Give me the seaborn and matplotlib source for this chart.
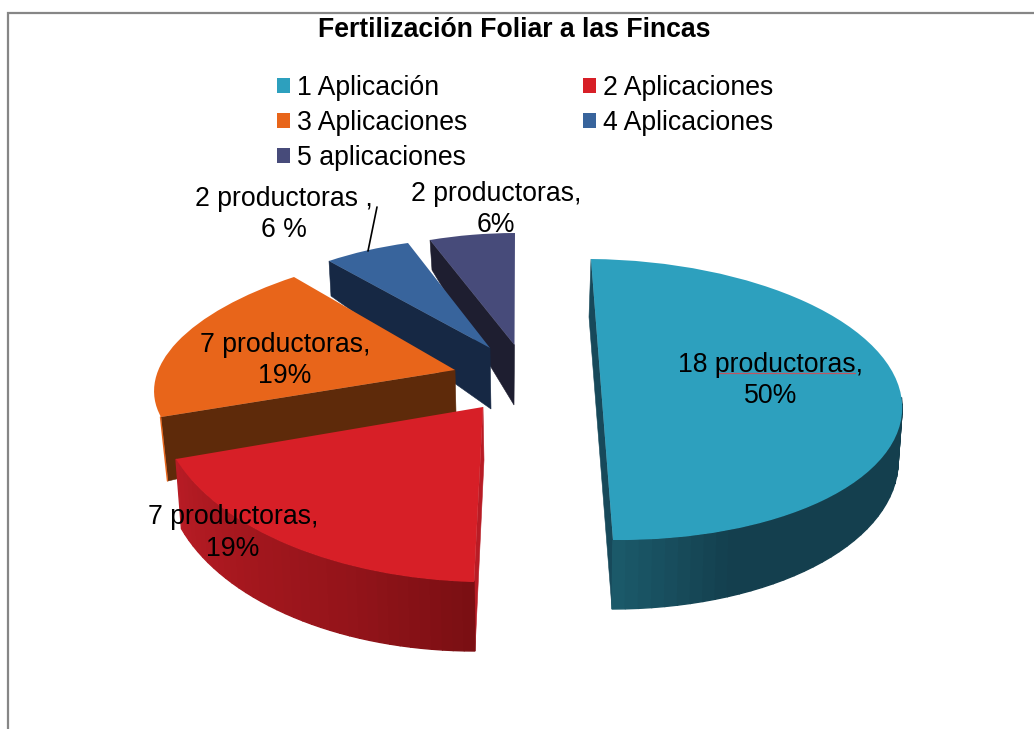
import numpy as np
import matplotlib
matplotlib.use("Agg")
import matplotlib.pyplot as plt
from matplotlib.patches import Patch
from matplotlib.transforms import Affine2D
from matplotlib.colors import to_rgb
import seaborn as sns

# ---- data ----
title = "Fertilización Foliar a las Fincas"
categories = ["1 Aplicación", "2 Aplicaciones", "3 Aplicaciones", "4 Aplicaciones", "5 aplicaciones"]
productoras = [18, 7, 7, 2, 2]
value_labels = ["18 productoras,\n50%", "7 productoras,\n19%", "7 productoras,\n19%",
                "2 productoras ,\n6 %", "2 productoras,\n6%"]
slice_colors = ["#2DA0BE", "#D71F27", "#E8651A", "#38649C", "#474B7A"]
face_colors = ["#17495A", "#B81C25", "#5E2A0A", "#162844", "#1E1E30"]

sns.set_theme(style="white")
plt.rcParams["font.family"] = ["Liberation Sans", "DejaVu Sans"]

fig = plt.figure(figsize=(10.34, 7.29), dpi=100, facecolor="white")
ax = fig.add_axes([0, 0, 1, 1])
palette = sns.color_palette(slice_colors)
wedges, _ = ax.pie(productoras, startangle=90, counterclock=False, colors=palette,
                   wedgeprops=dict(linewidth=0))
ax.set_aspect("auto")
ax.set_xlim(0, 1034)
ax.set_ylim(729, 0)
ax.set_axis_off()


def unit(deg):
    t = np.deg2rad(deg)
    return np.array([np.cos(t), np.sin(t)])


def solve_place(apex, deg_a, pt_a, deg_b, pt_b):
    """2x2 map that sends the pie's slice edges onto the tilted drawing."""
    U = np.column_stack([unit(deg_a), unit(deg_b)])
    P = np.column_stack([np.subtract(pt_a, apex), np.subtract(pt_b, apex)])
    return np.array(apex, float), P @ np.linalg.inv(U)


def arc(apex, M, deg):
    return apex + M @ unit(deg)


# tilted placement of every exploded slice (drawing layout)
places = [
    (np.array([602.0, 399.5]), np.array([[300.0, -11.0], [3.0, -140.5]])),
    solve_place((483, 407), wedges[1].theta2, (474, 582), wedges[1].theta1, (176, 459)),
    solve_place((455, 370), wedges[2].theta2, (161, 417), wedges[2].theta1, (294, 277)),
    solve_place((490, 348), wedges[3].theta2, (329, 261), wedges[3].theta1, (408, 243)),
    solve_place((514.5, 345), wedges[4].theta2, (430, 240), wedges[4].theta1, (515, 233)),
]

# side walls: layout only
rim_specs = {
    0: ((601, 455), np.array([[297.0, -11.0], [0.0, -154.0]]), -90, 2,
        ["#1B5A6B", "#143F4E", "#143F4E", "#143F4E", "#143F4E"]),
    1: ((483, 465), np.array([[318.0, 8.0], [0.0, -186.0]]), -160, -90,
        ["#B81C25", "#A5171E", "#94141A", "#7A0F13"]),
}
faces = [
    [(591, 259), (613, 540), (612, 609), (589, 317)],
    [(483, 407), (474, 582), (475, 651), (484, 460)],
    [(455, 370), (161, 417), (168, 481), (456, 412)],
    [(329, 261), (490, 348), (491, 409), (331, 296)],
    [(430, 240), (514.5, 345), (514, 405), (432, 270)],
]

for i in [4, 3, 2, 1, 0]:
    z = 10 + (4 - i) * 3
    ax.fill(*zip(*faces[i]), color=face_colors[i], lw=0.4, zorder=z)
    if i in rim_specs:
        c, Mb, a0, a1, cols = rim_specs[i]
        c = np.array(c, float)
        apex, M = places[i]
        n = 36
        degs = np.linspace(a0, a1, n + 1)
        stops = np.array([to_rgb(k) for k in cols])
        xs = np.linspace(0, 1, len(cols))
        for j in range(n):
            f = (j + 0.5) / n
            col = [np.interp(f, xs, stops[:, k]) for k in range(3)]
            quad = [arc(apex, M, degs[j]), arc(apex, M, degs[j + 1]),
                    arc(c, Mb, degs[j + 1]), arc(c, Mb, degs[j])]
            ax.fill(*zip(*quad), color=col, lw=1.0, zorder=z)
    apex, M = places[i]
    A = np.eye(3)
    A[:2, :2] = M
    A[:2, 2] = apex
    wedges[i].set_transform(Affine2D(A) + ax.transData)
    wedges[i].set_zorder(z + 1)

# thin orange edge next to the brown cut face
ax.plot([160.5, 167.5], [417, 481], color=slice_colors[2], lw=1, zorder=17)

# frame
ax.plot([8, 8, 1034], [729, 13, 13], color="#868686", lw=1.6, zorder=1, solid_joinstyle="miter")

ax.text(514.5, 30, title, ha="center", va="center", fontsize=19.2, fontweight="bold", color="black", zorder=40)

order = [0, 2, 4, 1, 3]
handles = [Patch(facecolor=palette[i], edgecolor="none", label=categories[i]) for i in order]
ax.legend(handles=handles, ncol=2, loc="upper left", bbox_to_anchor=(277, 75),
          bbox_transform=ax.transData, frameon=False, fontsize=19.2, borderpad=0, borderaxespad=0,
          handlelength=0.49, handleheight=0.49, handletextpad=0.26, columnspacing=4.35,
          labelspacing=0.33, labelcolor="black")

positions = [(771, 380), (233, 533), (285, 360), (284, 214), (496, 209)]
for pos, lab in zip(positions, value_labels):
    ax.text(pos[0], pos[1], lab, ha="center", va="center", fontsize=19.2, linespacing=1.25,
            color="black", zorder=40)

ax.plot([377, 368], [207, 251], color="black", lw=1.2, zorder=39)
ax.plot([717, 855], [373, 373], color="#C0555F", lw=0.9, zorder=39)

fig.savefig("out.png", dpi=100, facecolor="white")
